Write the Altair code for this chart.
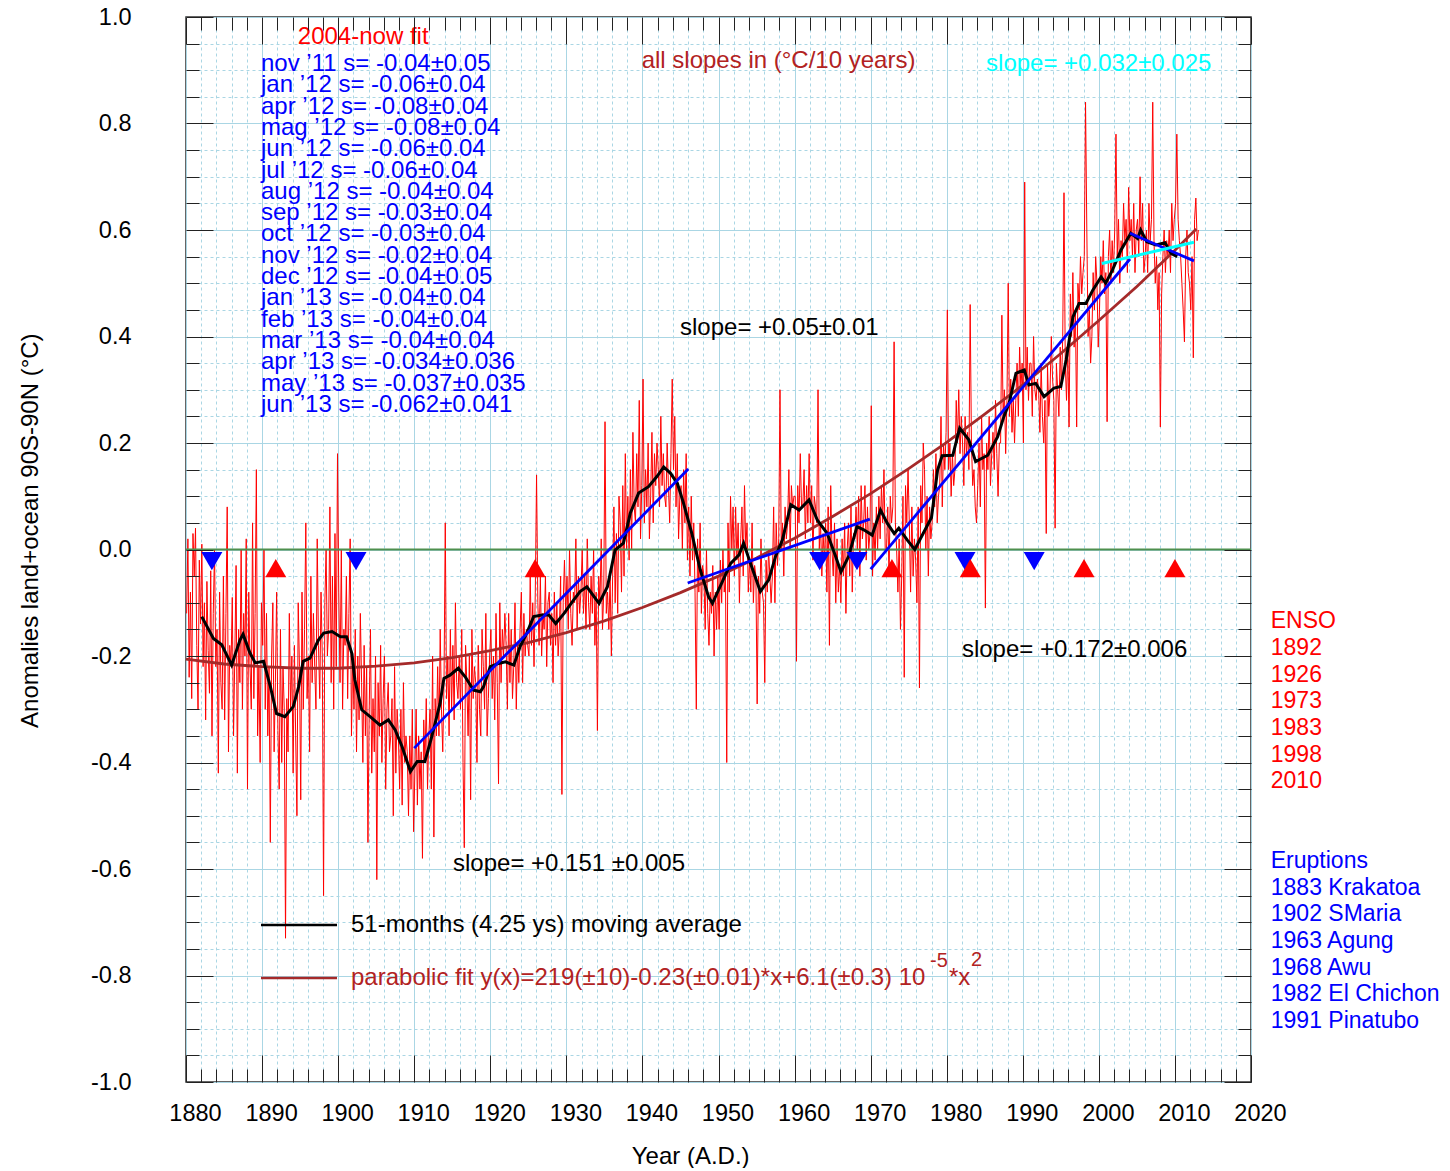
import altair as alt
import numpy as np
import pandas as pd

FONT = "Liberation Sans"
W = 1065
H = 1065

# ---------------- data ----------------
# monthly land+ocean anomalies, sampled 6 per year, in hundredths of a degree
red_1880s = [-12,2,-24,-8,-28,3, -5,4,-18,-30,-2,-14, 1,-22,-10,-32,-6,-19, -27,-4,-35,-12,0,-22, -15,-42,-8,-25,-30,-5,
             -32,-12,8,-38,-18,-22, -9,-35,-20,-3,-42,-15, -25,0,-30,-12,-20,2, -45,-8,-22,-30,5,-28, -12,15,-35,-22,-40,-10]
red_1890s = [-18,0,-30,-12,-35,-22, -55,-20,-10,-38,-25,-8, -34,-45,-15,-40,-22,-30, -73,-28,-38,-12,-30,-20, -42,-18,-35,-50,-10,-22,
             -47,-8,-30,-15,5,-28, -20,-38,-5,-25,-12,-22, -30,2,-18,-28,-8,-20, -65,-10,0,-20,-15,8, -25,-5,-30,3,-22,18]
red_1900s = [-8,-25,0,-30,-15,-18, -5,-28,-12,2,-35,-20, -30,-15,-38,-20,-32,-12, -25,-40,-18,-35,-22,-55, -30,-15,-42,-28,-38,-20,
             -62,-25,-35,-18,-40,-28, -20,-45,-30,-25,-38,-35, -28,-50,-22,-42,-30,-35, -45,-30,-48,-25,-40,-35, -38,-50,-35,-45,-30,-53]
red_1910s = [-42,-30,-48,-35,-45,-38, -58,-32,-40,-28,-45,-35, -30,-45,-20,-54,-28,-35, -22,-35,-15,-30,-38,-25, 5,-28,-20,-35,-15,-30,
             -18,-32,-10,-25,-28,-20, -30,-15,-40,-56,-18,-25, -35,-20,-47,-15,-28,-22, -25,-40,-18,-30,-35,-15, -22,-30,-12,-35,-28,-20]
red_1920s = [-15,-28,-20,-32,-12,-25, -44,-10,-25,-15,-20,-12, -18,-30,-12,-25,-15,-28, -22,-10,-30,-18,-25,-15, -8,-25,-12,-20,-15,-18,
             -20,-5,-18,-10,-22,-8, 14,-10,-18,-5,-20,-12, -15,-5,-22,-10,-8,-18, -12,-25,-8,-18,-10,-20, -15,-5,-46,-10,-2,-12]
red_1930s = [-5,-15,0,-12,-18,-8, -10,2,-15,-5,-12,-8, 0,-12,-5,-15,2,-10, -15,-5,-12,0,-18,-8, -34,-5,-10,2,-15,-8,
             24,-12,-8,-15,-5,-20, -5,8,-10,3,-12,10, 5,-8,12,-5,18,0, 10,-2,15,0,22,8, 5,18,8,28,2,12]
red_1940s = [32,5,15,8,20,2, 10,22,5,18,12,20, 15,8,25,12,18,10, 8,20,12,5,18,32, 15,25,8,18,2,10,
             12,0,15,5,18,-2, 8,-5,10,-2,5,-8, -30,2,-8,5,-12,-3, -5,-15,0,-12,-18,-8, -12,-3,-20,-8,-15,-5]
red_1950s = [-15,-2,-10,0,-8,-5, -40,5,-8,10,0,8, -5,8,-2,5,-10,2, 8,-5,12,0,5,-8, -2,-8,5,-10,-3,-5,
             -29,-5,-12,2,-8,-10, -25,-2,-8,0,-5,-10, -5,8,-10,5,-3,2, 30,0,5,-5,8,2, 5,15,0,12,8,10]
red_1960s = [10,-21,12,5,18,8, 8,15,2,12,5,18, 5,12,-2,10,8,5, 30,0,5,-5,3,-2, 5,-8,8,-18,12,0,
             -5,5,-10,2,-8,-3, -10,2,-5,5,-12,0, 5,-5,8,-8,3,2, 8,0,10,-5,12,2, 5,12,-2,8,0,3]
red_1970s = [27,-5,5,-2,8,0, 10,2,12,5,15,0, 0,8,-5,10,5,8, 39,5,0,-8,2,-15, -5,10,-24,12,5,15,
             5,-8,8,-5,2,-2, -10,8,-26,12,5,20, 15,0,10,-5,8,2, 5,15,8,18,5,10, 12,25,8,20,15,22]
red_1980s = [45,15,20,10,18,12, 15,28,20,30,18,25, 20,12,25,18,22,15, 46,20,12,15,8,5, 12,20,8,25,15,18,
             -11,20,15,25,12,18, 22,15,28,18,10,20, 20,44,25,30,18,28, 50,25,32,22,28,20, 28,35,25,38,30,35]
red_1990s = [20,69,30,38,28,35, 35,25,40,30,28,32, 30,22,35,25,20,28, 3,35,25,30,40,32, 28,4,35,30,25,38,
             30,40,67,35,28,38, 23,48,40,52,38,45, 23,50,45,55,48,52, 55,84,60,40,45,35, 40,52,45,55,50,38]
red_2000s = [45,55,50,58,48,52, 24,55,60,50,58,52, 60,78,55,62,50,58, 55,65,58,62,52,68, 58,62,55,65,52,60,
             62,55,70,58,65,52, 55,60,52,65,58,62, 84,58,50,55,45,52, 23,48,55,60,52,58, 55,60,52,65,58,62]
red_2010s = [65,78,62,58,55,50, 45,39,55,60,52,50, 45,55,36,62,66,58, 60]

# 51-month moving average (year, value)
ma_years = [1882.07,1883.6,1884.7,1886.0,1887.1,1887.5,1888.4,1889.1,1890.2,1891.1,1891.9,1893.0,1894.1,1894.8,1895.4,
            1896.3,1897.4,1898.1,1899.2,1900.3,1901.1,1901.8,1902.2,1903.1,1904.2,1905.5,1906.6,1907.5,1908.4,1909.5,
            1910.4,1911.4,1912.3,1913.4,1913.9,1914.7,1915.8,1916.7,1917.8,1918.7,1919.1,1920.0,1921.1,1922.0,1923.1,
            1923.9,1924.8,1925.7,1926.8,1927.7,1928.6,1929.7,1930.8,1931.8,1932.7,1934.3,1935.4,1936.4,1937.5,1938.4,
            1939.5,1940.8,1941.9,1942.8,1943.7,1944.6,1945.4,1946.5,1947.6,1948.7,1949.2,1950.3,1951.6,1952.7,1953.3,
            1954.2,1955.5,1956.6,1957.5,1958.4,1959.5,1960.6,1961.9,1963.0,1964.3,1965.4,1966.1,1967.1,1968.2,1969.1,
            1970.2,1971.3,1972.2,1973.1,1973.7,1974.8,1975.8,1976.9,1978.0,1978.8,1979.4,1980.8,1981.7,1982.9,1983.8,
            1985.4,1986.7,1987.5,1988.2,1989.1,1990.2,1990.8,1991.7,1992.8,1994.1,1995.0,1995.7,1996.1,1996.6,1997.4,
            1998.3,1999.2,2000.3,2000.9,2001.8,2002.9,2004.2,2005.1,2005.5,2006.3,2007.5,2008.7,2009.5,2010.3]
ma_vals = [-0.126,-0.167,-0.179,-0.217,-0.170,-0.159,-0.194,-0.213,-0.210,-0.258,-0.308,-0.314,-0.295,-0.258,-0.210,
           -0.204,-0.170,-0.157,-0.154,-0.164,-0.164,-0.195,-0.245,-0.301,-0.314,-0.330,-0.320,-0.339,-0.370,-0.417,
           -0.398,-0.398,-0.352,-0.289,-0.242,-0.236,-0.223,-0.239,-0.264,-0.267,-0.258,-0.220,-0.214,-0.211,-0.217,
           -0.183,-0.157,-0.126,-0.123,-0.123,-0.139,-0.120,-0.098,-0.079,-0.070,-0.101,-0.070,-0.001,0.012,0.068,
           0.106,0.118,0.137,0.155,0.143,0.124,0.087,0.030,-0.038,-0.089,-0.101,-0.067,-0.026,-0.010,0.012,
           -0.026,-0.079,-0.057,-0.013,0.018,0.084,0.074,0.093,0.055,0.030,-0.013,-0.042,-0.013,0.043,0.037,
           0.027,0.074,0.049,0.030,0.040,0.018,0.000,0.030,0.060,0.149,0.176,0.177,0.228,0.206,0.165,
           0.177,0.212,0.249,0.275,0.331,0.337,0.309,0.312,0.287,0.303,0.306,0.356,0.393,0.437,0.462,
           0.462,0.487,0.512,0.500,0.525,0.562,0.594,0.584,0.600,0.578,0.572,0.576,0.556,0.550]

# parabolic fit curve as drawn
par_years = [1880,1885,1890,1895,1900,1905,1910,1915,1920,1925,1930,1935,1940,1945,1950,1955,1960,1965,1970,1975,
             1980,1985,1990,1995,2000,2005,2010,2012.8]
par_vals = [-0.206,-0.215,-0.220,-0.223,-0.223,-0.219,-0.213,-0.203,-0.190,-0.175,-0.156,-0.134,-0.109,-0.081,-0.050,
            -0.016,0.021,0.062,0.105,0.152,0.201,0.254,0.309,0.368,0.430,0.494,0.562,0.602]

# linear fits (segment, year, value)
fit_seg = [1, 1, 2, 2, 3, 3, 4, 4]
fit_years = [1910.0, 1946.03, 1945.95, 1969.9, 1970.0, 2004.1, 2004.1, 2012.5]
fit_vals = [-0.373, 0.151, -0.063, 0.057, -0.037, 0.5455, 0.594, 0.542]
cyan_years = [2000.4, 2012.5]
cyan_vals = [0.537, 0.577]

# event markers
eruption_years = [1883.4, 1902.35, 1963.3, 1968.2, 1982.4, 1991.5]
enso_years = [1891.8, 1925.9, 1972.8, 1983.1, 1998.05, 2010.0]

blue_lines = ["nov \u201911 s= -0.04\u00b10.05", "jan \u201912 s= -0.06\u00b10.04", "apr \u201912 s= -0.08\u00b10.04",
              "mag \u201912 s= -0.08\u00b10.04", "jun \u201912 s= -0.06\u00b10.04", "jul \u201912 s= -0.06\u00b10.04",
              "aug \u201912 s= -0.04\u00b10.04", "sep \u201912 s= -0.03\u00b10.04", "oct \u201912 s= -0.03\u00b10.04",
              "nov \u201912 s= -0.02\u00b10.04", "dec \u201912 s= -0.04\u00b10.05", "jan \u201913 s= -0.04\u00b10.04",
              "feb \u201913 s= -0.04\u00b10.04", "mar \u201913 s= -0.04\u00b10.04", "apr \u201913 s= -0.034\u00b10.036",
              "may \u201913 s= -0.037\u00b10.035", "jun \u201913 s= -0.062\u00b10.041"]
enso_text = ["ENSO", "1892", "1926", "1973", "1983", "1998", "2010"]
eruption_text = ["Eruptions", "1883 Krakatoa", "1902 SMaria", "1963 Agung", "1968 Awu", "1982 El Chichon", "1991 Pinatubo"]

# ---------------- tables ----------------
red_vals = np.array(red_1880s + red_1890s + red_1900s + red_1910s + red_1920s + red_1930s + red_1940s +
                    red_1950s + red_1960s + red_1970s + red_1980s + red_1990s + red_2000s + red_2010s) / 100.0
red_df = pd.DataFrame({"t": 1880 + (np.arange(len(red_vals)) + 0.5) / 6.0, "v": red_vals})
ma_df = pd.DataFrame({"t": ma_years, "v": ma_vals})
par_df = pd.DataFrame({"t": par_years, "v": par_vals})
fit_df = pd.DataFrame({"seg": fit_seg, "t": fit_years, "v": fit_vals})
cyan_df = pd.DataFrame({"t": cyan_years, "v": cyan_vals})

BLUE, RED, BROWN, CYAN = "#0000ff", "#ff0000", "#b22222", "#00ffff"
rows = []
rows.append(dict(x=1894.7, y=0.962, text="2004-now fit", color=RED, size=24, angle=0))
for i, s in enumerate(blue_lines):
    rows.append(dict(x=1889.86, y=0.9117 - 0.04 * i, text=s, color=BLUE, size=24, angle=0))
rows.append(dict(x=1939.9, y=0.9174, text="all slopes in (\u00b0C/10 years)", color=BROWN, size=24, angle=0))
rows.append(dict(x=1985.17, y=0.9117, text="slope= +0.032\u00b10.025", color=CYAN, size=24, angle=0))
rows.append(dict(x=1944.94, y=0.416, text="slope= +0.05\u00b10.01", color="black", size=24, angle=0))
rows.append(dict(x=1982.0, y=-0.1887, text="slope= +0.172\u00b10.006", color="black", size=24, angle=0))
rows.append(dict(x=1915.1, y=-0.5906, text="slope= +0.151 \u00b10.005", color="black", size=24, angle=0))
rows.append(dict(x=1901.69, y=-0.7052, text="51-months (4.25 ys) moving average", color="black", size=24, angle=0))
rows.append(dict(x=1901.69, y=-0.8047, text="parabolic fit y(x)=219(\u00b110)-0.23(\u00b10.01)*x+6.1(\u00b10.3) 10",
                 color=BROWN, size=24, angle=0))
rows.append(dict(x=1977.8, y=-0.773, text="-5", color=BROWN, size=20, angle=0))
rows.append(dict(x=1980.3, y=-0.8047, text="*x", color=BROWN, size=24, angle=0))
rows.append(dict(x=1983.2, y=-0.771, text="2", color=BROWN, size=20, angle=0))
for i, s in enumerate(enso_text):
    rows.append(dict(x=2022.6, y=-0.135 - 0.05 * i, text=s, color=RED, size=23, angle=0))
for i, s in enumerate(eruption_text):
    rows.append(dict(x=2022.6, y=-0.585 - 0.05 * i, text=s, color=BLUE, size=23, angle=0))
rows.append(dict(x=1938.6, y=-1.1408, text="Year (A.D.)", color="black", size=24, angle=0))
rows.append(dict(x=1859.6, y=-0.335, text="Anomalies land+ocean 90S-90N (\u00b0C)", color="black", size=24, angle=270))
text_df = pd.DataFrame(rows)

leg_df = pd.DataFrame({"x": [1889.86, 1889.86], "x2": [1899.85, 1899.85], "y": [-0.7052, -0.8047],
                       "c": ["black", "#a52a2a"]})

# ---------------- scales & axes ----------------
xscale = alt.Scale(domain=[1880, 2020], nice=False, zero=False)
yscale = alt.Scale(domain=[-1, 1], nice=False, zero=False)
xvals = list(range(1880, 2021, 2))
yvals = [round(i * 0.05, 2) for i in range(-20, 21)]
XT = "datum.value % 10 === 0"
YT = "abs(datum.value * 5 - round(datum.value * 5)) < 0.001"
GRID = "#aad6e4"

x_main = alt.Axis(orient="bottom", values=xvals, grid=True, gridColor=GRID, gridWidth=1,
                  gridDash={"condition": {"test": XT, "value": []}, "value": [3, 3]},
                  ticks=False, tickSize=0, domain=False, format="d",
                  labelExpr=XT + " ? datum.label : ''", labelFont=FONT, labelFontSize=23.5, labelColor="black",
                  labelPadding=19, labelOffset=9, labelFlush=False, labelOverlap=False, title=None, zindex=0)
y_main = alt.Axis(orient="left", values=yvals, grid=True, gridColor=GRID, gridWidth=1,
                  gridDash={"condition": {"test": YT, "value": []}, "value": [3, 3]},
                  ticks=False, tickSize=0, domain=False,
                  labelExpr=YT + " ? ((datum.value < -0.001 ? '-' : '') + format(abs(datum.value), '.1f')) : ''",
                  labelFont=FONT, labelFontSize=23.5, labelColor="black", labelPadding=55,
                  labelOverlap=False, title=None, zindex=0)


def tick_axis(orient, vals, test):
    return alt.Axis(orient=orient, offset=-W, values=vals, ticks=True,
                    tickSize={"condition": {"test": test, "value": 27}, "value": 13},
                    tickColor="#222222", tickWidth=1, labels=False, domain=False, grid=False,
                    title=None, zindex=1)


x_tb = tick_axis("top", xvals, XT)      # drawn at bottom edge, pointing up
x_tt = tick_axis("bottom", xvals, XT)   # drawn at top edge, pointing down
y_tl = tick_axis("right", yvals, YT)    # drawn at left edge, pointing right
y_tr = tick_axis("left", yvals, YT)     # drawn at right edge, pointing left


def X(axis=None):
    return alt.X("t:Q", scale=xscale, axis=axis)


def Y(axis=None):
    return alt.Y("v:Q", scale=yscale, axis=axis)


red = alt.Chart(red_df).mark_line(color="#ff0000", strokeWidth=1).encode(x=X(x_main), y=Y(y_main))
zero = alt.Chart(pd.DataFrame({"z": [0.0]})).mark_rule(color="#4e8f4e", strokeWidth=2).encode(
    y=alt.Y("z:Q", scale=yscale, axis=None))
brown = alt.Chart(par_df).mark_line(color="#a52a2a", strokeWidth=2.8).encode(x=X(x_tt), y=Y(y_tr))
black = alt.Chart(ma_df).mark_line(color="black", strokeWidth=3).encode(x=X(x_tb), y=Y(y_tl))
fits = alt.Chart(fit_df).mark_line(color="#0000ff", strokeWidth=2.8).encode(x=X(), y=Y(), detail="seg:N")
cyan = alt.Chart(cyan_df).mark_line(color="#00ffff", strokeWidth=3).encode(x=X(), y=Y())
tri_down = alt.Chart(pd.DataFrame({"t": eruption_years})).mark_point(
    shape="triangle-down", filled=True, size=441, color="#0000ff", opacity=1, strokeWidth=0).encode(
    x=X(), y=alt.YDatum(-0.022, scale=yscale, axis=None))
tri_up = alt.Chart(pd.DataFrame({"t": enso_years})).mark_point(
    shape="triangle-up", filled=True, size=441, color="#ff0000", opacity=1, strokeWidth=0).encode(
    x=X(), y=alt.YDatum(-0.035, scale=yscale, axis=None))
legend_lines = alt.Chart(leg_df).mark_rule(strokeWidth=2.6).encode(
    x=alt.X("x:Q", scale=xscale, axis=None), x2="x2:Q",
    y=alt.Y("y:Q", scale=yscale, axis=None), color=alt.Color("c:N", scale=None))
texts = alt.Chart(text_df).mark_text(align="left", baseline="middle", font=FONT).encode(
    x=alt.X("x:Q", scale=xscale, axis=None), y=alt.Y("y:Q", scale=yscale, axis=None),
    text="text:N", color=alt.Color("color:N", scale=None), size=alt.Size("size:Q", scale=None),
    angle=alt.Angle("angle:Q", scale=None))

chart = alt.layer(red, zero, brown, black, fits, cyan, tri_down, tri_up, legend_lines, texts).resolve_axis(
    x="independent", y="independent").properties(
    width=W, height=H, background="white",
    padding={"left": 178, "top": 9, "right": 191, "bottom": 86},
    autosize=alt.AutoSizeParams(type="none")).configure_view(stroke="#333333", strokeWidth=1.5)

chart.save("out.html", embed_options={"renderer": "svg", "actions": False})
